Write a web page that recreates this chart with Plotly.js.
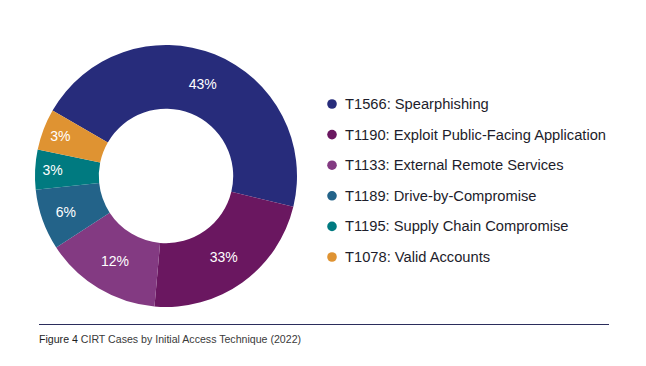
<!DOCTYPE html>
<html>
<head>
<meta charset="utf-8">
<script src="https://cdn.plot.ly/plotly-3.0.1.min.js"></script>
<style>
  html, body { margin: 0; padding: 0; background: #ffffff; }
  #chart { width: 646px; height: 366px; }
</style>
</head>
<body>
<div id="chart"></div>
<script>
// Categories (legend order = slice order, clockwise)
var categories = [
  "T1566: Spearphishing",
  "T1190: Exploit Public-Facing Application",
  "T1133: External Remote Services",
  "T1189: Drive-by-Compromise",
  "T1195: Supply Chain Compromise",
  "T1078: Valid Accounts"
];
// Slice sizes as drawn in the picture (angle share, %)
var shares = [45.4, 22.6, 14.4, 7.5, 4.9, 5.1];
// Percent labels as printed on the slices
var pctLabels = ["43%", "33%", "12%", "6%", "3%", "3%"];
var colors = ["#272c7b", "#6a1760", "#833a82", "#236389", "#007a80", "#df9332"];

var W = 646, H = 366;
var cx = 166, cy = 176, R = 131;

var pie = {
  type: "pie",
  labels: categories,
  values: shares,
  text: pctLabels,
  textinfo: "text",
  textposition: "inside",
  insidetextorientation: "horizontal",
  textfont: { family: "Liberation Sans, Arial, sans-serif", size: 14, color: "#ffffff" },
  marker: { colors: colors, line: { width: 0 } },
  hole: 0.513,
  sort: false,
  direction: "clockwise",
  rotation: -60,
  showlegend: false,
  hoverinfo: "none",
  domain: {
    x: [(cx - R) / W, (cx + R) / W],
    y: [(H - cy - R) / H, (H - cy + R) / H]
  }
};

// Legend built from the categories
var shapes = [];
var annotations = [];
var legDotX = 332, legTextX = 343, legY0 = 104, legStep = 30.6, dotR = 4.8;
categories.forEach(function (c, i) {
  var y = legY0 + i * legStep;
  shapes.push({
    type: "circle", xref: "paper", yref: "paper",
    x0: (legDotX - dotR) / W, x1: (legDotX + dotR) / W,
    y0: 1 - (y + dotR) / H, y1: 1 - (y - dotR) / H,
    fillcolor: colors[i], line: { width: 0 }
  });
  annotations.push({
    xref: "paper", yref: "paper",
    x: legTextX / W, y: 1 - y / H,
    xanchor: "left", yanchor: "middle",
    text: c, showarrow: false,
    font: { family: "Liberation Sans, Arial, sans-serif", size: 14.7, color: "#1d1d2b" }
  });
});

// Caption rule
shapes.push({
  type: "line", xref: "paper", yref: "paper",
  x0: 39 / W, x1: 609 / W, y0: 1 - 324.5 / H, y1: 1 - 324.5 / H,
  line: { color: "#2b2d5c", width: 1.2 }
});
// Caption text
annotations.push({
  xref: "paper", yref: "paper",
  x: 37 / W, y: 1 - 339 / H,
  xanchor: "left", yanchor: "middle",
  text: "<span style='color:#1e1e1e'>Figure 4</span> CIRT Cases by Initial Access Technique (2022)",
  showarrow: false,
  font: { family: "Liberation Sans, Arial, sans-serif", size: 10.6, color: "#3a3a3a" }
});

var layout = {
  width: W, height: H,
  margin: { l: 0, r: 0, t: 0, b: 0 },
  paper_bgcolor: "#ffffff",
  plot_bgcolor: "#ffffff",
  showlegend: false,
  shapes: shapes,
  annotations: annotations
};

Plotly.newPlot("chart", [pie], layout, { displayModeBar: false, staticPlot: true });
</script>
</body>
</html>
